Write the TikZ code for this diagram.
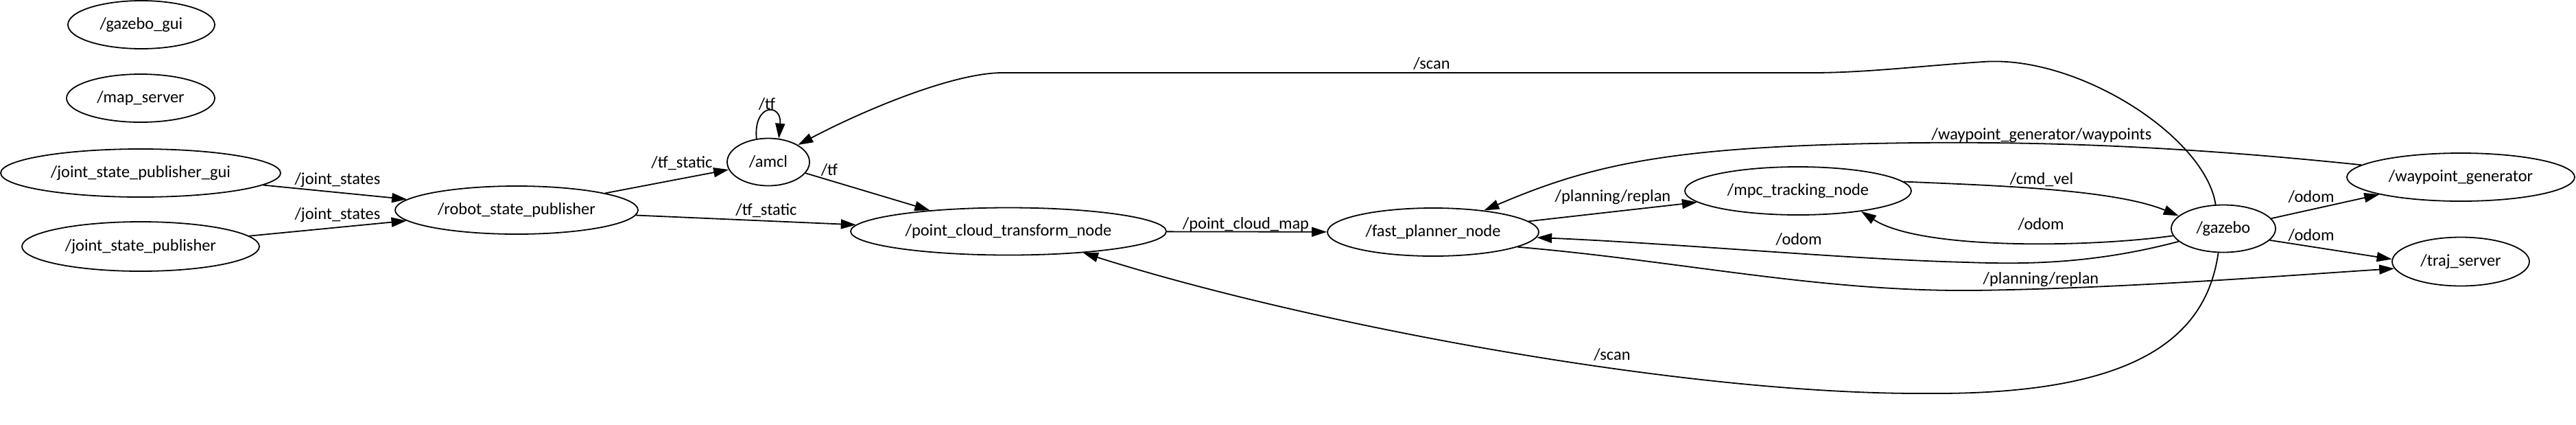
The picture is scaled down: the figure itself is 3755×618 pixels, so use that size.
\documentclass[tikz,border=0pt]{standalone}
\usepackage{fontspec}
\setmainfont{Carlito}
\usetikzlibrary{shapes.geometric,arrows.meta}
\begin{document}
\begin{tikzpicture}[x=0.5pt,y=-0.5pt,font=\fontsize{12.2}{14}\selectfont,
  rosnode/.style={draw,ellipse,line width=0.9pt,inner sep=0pt,minimum height=35pt},
  topic/.style={-{Triangle[length=11pt,width=7pt]},line width=0.9pt},
  lbl/.style={inner sep=0pt}]
\useasboundingbox (0,0) rectangle (3755,618);
\node[rosnode,minimum width=107pt] (gazebogui) at (206,36) {/gazebo\_gui};
\node[rosnode,minimum width=108pt] (mapserver) at (205,143) {/map\_server};
\node[rosnode,minimum width=204pt] (jspgui) at (205,252) {/joint\_state\_publisher\_gui};
\node[rosnode,minimum width=173pt,minimum height=36pt] (jsp) at (205,359) {/joint\_state\_publisher};
\node[rosnode,minimum width=177pt] (rsp) at (753,306) {/robot\_state\_publisher};
\node[rosnode,minimum width=60pt,minimum height=34.5pt] (amcl) at (1120,236) {/amcl};
\node[rosnode,minimum width=230pt,minimum height=34.5pt] (pct) at (1470,337) {/point\_cloud\_transform\_node};
\node[rosnode,minimum width=154pt] (fastplanner) at (2089,338) {/fast\_planner\_node};
\node[rosnode,minimum width=165pt] (mpc) at (2621,278) {/mpc\_tracking\_node};
\node[rosnode,minimum width=76pt,minimum height=34.5pt] (gazebo) at (3241,333) {/gazebo};
\node[rosnode,minimum width=166pt] (waypointgen) at (3587,258) {/waypoint\_generator};
\node[rosnode,minimum width=100pt,minimum height=35.5pt] (trajserver) at (3587,381) {/traj\_server};
\draw[topic] (jspgui) -- (rsp);
\draw[topic] (jsp) -- (rsp);
\draw[topic] (rsp) -- (amcl);
\draw[topic] (rsp) -- (pct);
\draw[topic] (amcl.117) .. controls (1098,150) and (1140,150) .. (amcl.66);
\draw[topic] (amcl) -- (pct.165);
\draw[topic] (gazebo.108) .. controls (3215,200) and (3030,80) .. (2891,90) .. controls (2800,96) and (2720,106) .. (2641,106) -- (1461,106) .. controls (1390,106) and (1260,160) .. (amcl.30);
\draw[topic] (gazebo.-102) .. controls (3215,500) and (3100,575) .. (2809,573) .. controls (2450,575) and (1900,470) .. (pct.-16);
\draw[topic] (pct) -- (fastplanner);
\draw[topic] (fastplanner) -- (mpc);
\draw[topic] (waypointgen.173) .. controls (3200,215) and (3000,206) .. (2793,208) .. controls (2450,212) and (2330,235) .. (fastplanner.23);
\draw[topic] (mpc.5) .. controls (2900,270) and (3080,275) .. (gazebo.164);
\draw[topic] (gazebo.188) .. controls (3050,360) and (2800,365) .. (mpc.-18);
\draw[topic] (gazebo.196) .. controls (3050,385) and (2950,385) .. (2866,382) .. controls (2700,378) and (2450,355) .. (fastplanner.-3);
\draw[topic] (fastplanner.-10) .. controls (2450,380) and (2650,425) .. (2878,423) .. controls (3100,420) and (3350,400) .. (trajserver.186);
\draw[topic] (gazebo.12) -- (waypointgen.192);
\draw[topic] (gazebo.-14) -- (trajserver.178);
\node[lbl] (ljoint1) at (492,262) {/joint\_states};
\node[lbl] (ljoint2) at (492,313) {/joint\_states};
\node[lbl] (ltfstatic1) at (994,238) {/tf\_static};
\node[lbl] (ltfstatic2) at (1117,307) {/tf\_static};
\node[lbl] (ltfloop) at (1118,152) {/tf};
\node[lbl] (ltf) at (1209,248) {/tf};
\node[lbl] (lscantop) at (2087,93) {/scan};
\node[lbl] (lscanbot) at (2350,517) {/scan};
\node[lbl] (lcloud) at (1816,327) {/point\_cloud\_map};
\node[lbl] (lreplan1) at (2351,287) {/planning/replan};
\node[lbl] (lwaypoints) at (2976,197) {/waypoint\_generator/waypoints};
\node[lbl] (lcmdvel) at (2976,262) {/cmd\_vel};
\node[lbl] (lodommpc) at (2975,327) {/odom};
\node[lbl] (lodomfp) at (2622,349) {/odom};
\node[lbl] (lreplan2) at (2975,407) {/planning/replan};
\node[lbl] (lodomwg) at (3369,287) {/odom};
\node[lbl] (lodomtraj) at (3369,343) {/odom};
\end{tikzpicture}
\end{document}
